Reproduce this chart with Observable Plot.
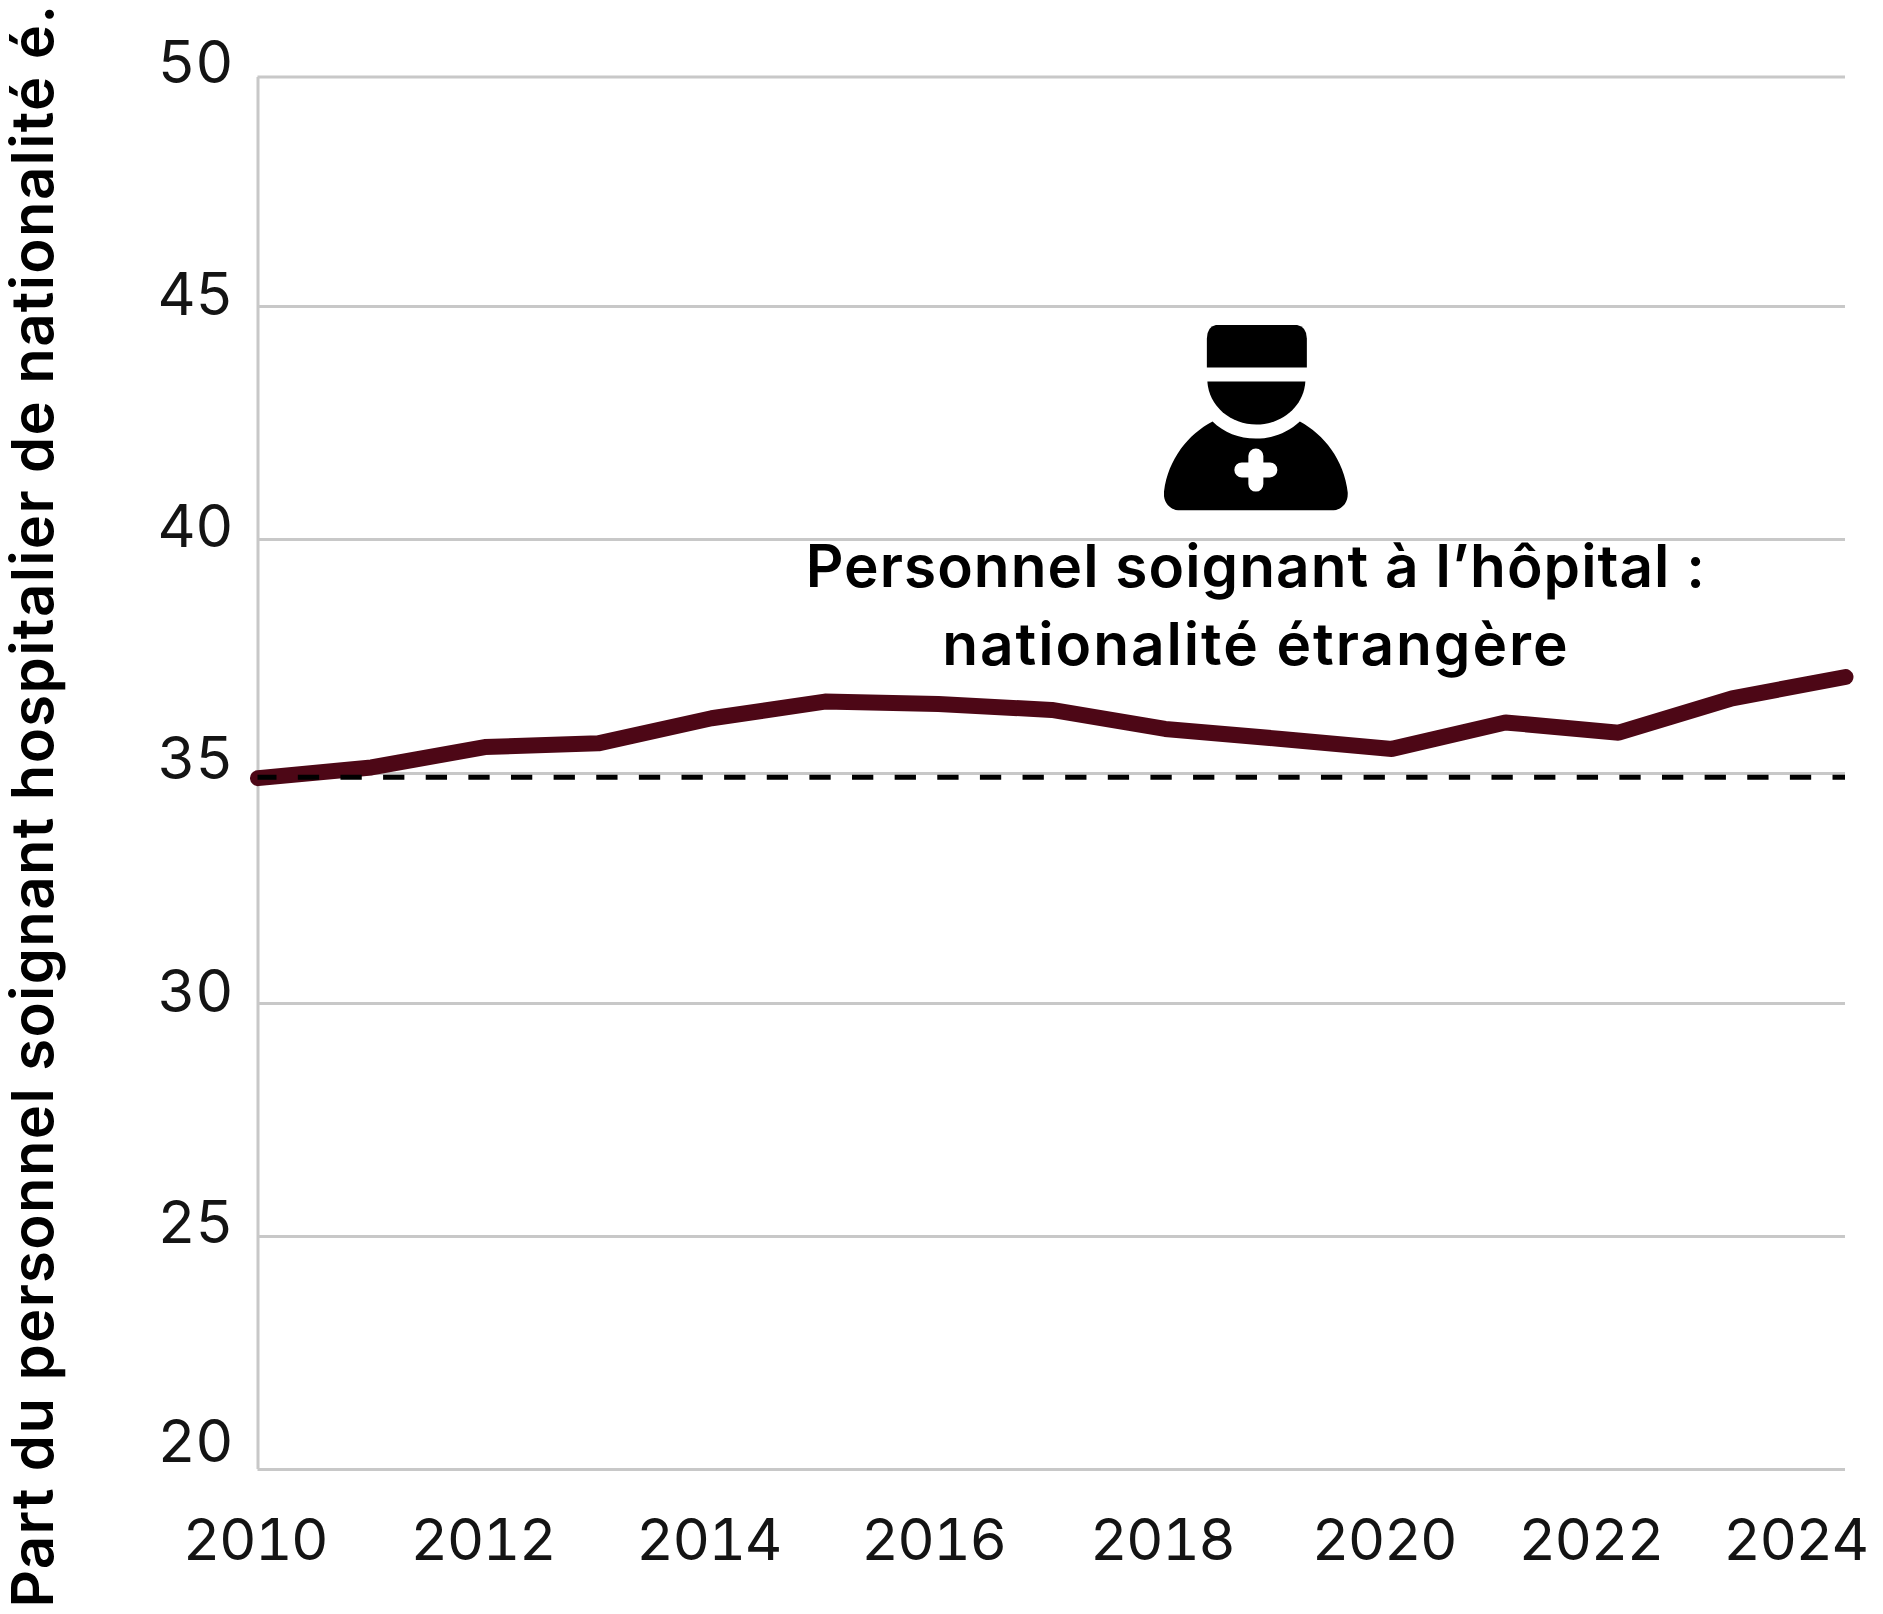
<!DOCTYPE html>
<html lang="fr">
<head>
<meta charset="utf-8">
<title>Personnel soignant à l’hôpital : nationalité étrangère</title>
<style>
html,body{margin:0;padding:0;background:#fff;overflow:hidden}
svg{display:block}
g[font-weight="400"]{letter-spacing:-1.500px}
g[font-size="59"]{letter-spacing:-.5px}
g[font-size="58"][font-weight="600"]{letter-spacing:1.400px}
g[font-size="58.5"]{letter-spacing:1.050px}
g[font-size="58.6"]{letter-spacing:1.950px}
</style>
<script src="https://cdn.jsdelivr.net/npm/d3@7"></script>
<script src="https://cdn.jsdelivr.net/npm/@observablehq/plot@0.6"></script>
</head>
<body>
<script>
const years = [2010,2011,2012,2013,2014,2015,2016,2017,2018,2019,2020,2021,2022,2023,2024];
const shares = [34.9,35.13,35.57,35.65,36.19,36.55,36.5,36.37,35.96,35.75,35.53,36.1,35.88,36.62,37.08];
const referenceShare = 34.92;
const yTicks = [20,25,30,35,40,45,50];
const xTicks = [2010,2012,2014,2016,2018,2020,2022,2024];
const yTitle = "Part du personnel soignant hospitalier de nationalité é.";
const noteLine1 = "Personnel soignant à l’hôpital :";
const noteLine2 = "nationalité étrangère";

// Offsets of the hand-placed gridlines and tick labels in the original
const gridNudge = {20:0, 25:-1, 30:-2, 35:0, 40:-2, 45:-3, 50:-.5};
const yLabelNudge = {20:-13, 25:0, 30:1, 35:0, 40:0, 45:0, 50:0};
const xLabelNudge = {2010:-3, 2012:-2, 2014:-3, 2016:-5, 2018:-3, 2020:-8, 2022:-28, 2024:-50};

const iconSvg = `<svg xmlns="http://www.w3.org/2000/svg" viewBox="0 0 184 186" width="184" height="186"><path d="M56 0H129Q143 0 143 14V43H43V14Q43 0 56 0Z"/><path d="M43.5 57H141.500C140 82 118 100 92.500 100C67 100 45 82 43.500 57Z"/><path d="M48.700 97C60 108 75 114 92 114C109 114 124 108 136 97C160 110 180 135 184 168C184.500 178 178 186 167 186H17C6 186 -.5 178 0 168C4 135 24 110 48.700 97Z"/><path d="M92 131.500V159.500M78 145.300H106" stroke="#fff" stroke-width="15" stroke-linecap="round" fill="none"/></svg>`;
const iconHref = "data:image/svg+xml;charset=utf-8," + encodeURIComponent(iconSvg);

const font = "Inter";
const grey = "#c8c8c8";
const tickStyle = {tickSize: 0, label: null, fill: "#141414", fontWeight: 400};

const rows = years.map((year, i) => ({year, share: shares[i]}));

const chart = Plot.plot({
  width: 1883,
  height: 1614,
  marginLeft: 257.500,
  marginRight: 38,
  marginTop: 77,
  marginBottom: 145,
  style: {fontFamily: font, background: "#fff"},
  x: {domain: [2010, 2024], axis: null},
  y: {domain: [20, 50], axis: null},
  marks: [
    ...yTicks.map(t => Plot.gridY([t], {stroke: grey, strokeOpacity: 1, strokeWidth: 3, dy: gridNudge[t]})),
    Plot.ruleX([2010], {stroke: grey, strokeWidth: 3}),
    Plot.line(rows, {x: "year", y: "share", stroke: "#4d0716", strokeWidth: 16, strokeLinecap: "round", strokeLinejoin: "miter"}),
    Plot.ruleY([referenceShare], {stroke: "#000", strokeWidth: 5, strokeDasharray: "21.300 21.330", strokeDashoffset: 2.300}),
    ...yTicks.map(t => Plot.axisY([t], {...tickStyle, fontSize: 59, anchor: "left", tickPadding: 25, dy: yLabelNudge[t] - 13})),
    ...xTicks.map(t => Plot.axisX([t], {...tickStyle, fontSize: 58, anchor: "bottom", tickFormat: "d", tickPadding: 49, dx: xLabelNudge[t]})),
    Plot.text([yTitle], {frameAnchor: "bottom-left", rotate: -90, textAnchor: "start", lineAnchor: "bottom", dx: -205.500, dy: 138, fontSize: 58, fontWeight: 600, fill: "#000"}),
    Plot.image([0], {x: () => 2018.800, y: () => 42.670, src: () => iconHref, width: 184, height: 186}),
    Plot.text([noteLine1], {x: () => 2018.800, y: () => 39.430, fontSize: 58.5, fontWeight: 600, fill: "#000", textAnchor: "middle"}),
    Plot.text([noteLine2], {x: () => 2018.800, y: () => 37.750, fontSize: 58.6, fontWeight: 600, fill: "#000", textAnchor: "middle"})
  ]
});
document.body.append(chart);
</script>
</body>
</html>
